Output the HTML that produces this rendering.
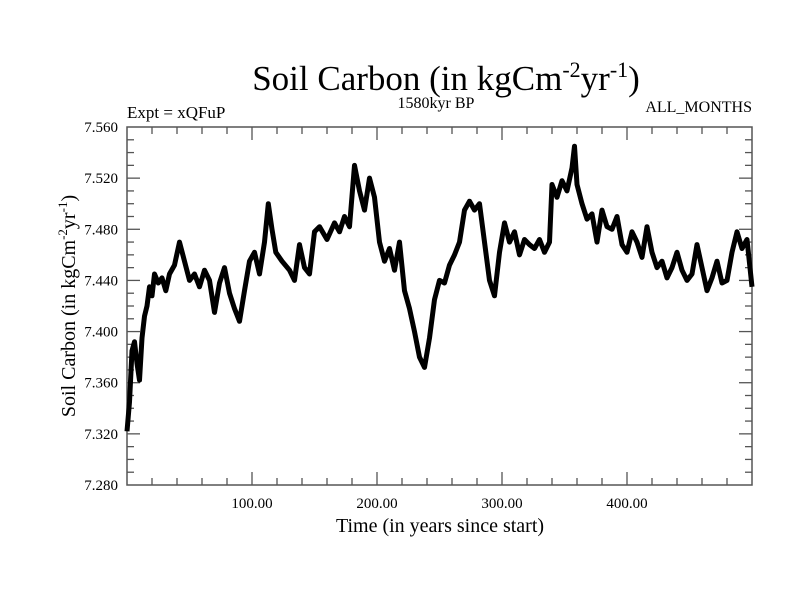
<!DOCTYPE html>
<html><head><meta charset="utf-8"><style>
body{margin:0;background:#fff}
svg text{font-family:"Liberation Serif",serif;fill:#000}
</style></head><body>
<svg id="chart" width="800" height="600" viewBox="0 0 800 600">
<text x="446" y="90" text-anchor="middle" font-size="35">Soil Carbon (in kgCm<tspan dy="-13" font-size="22">-2</tspan><tspan dy="13">yr</tspan><tspan dy="-13" font-size="22">-1</tspan><tspan dy="13">)</tspan></text>
<text x="436" y="108" text-anchor="middle" font-size="16">1580kyr BP</text>
<text x="127" y="118" font-size="17">Expt = xQFuP</text>
<text x="752" y="112" text-anchor="end" font-size="16">ALL_MONTHS</text>
<text transform="translate(75,306) rotate(-90)" text-anchor="middle" font-size="20">Soil Carbon (in kgCm<tspan dy="-8" font-size="13">-2</tspan><tspan dy="8">yr</tspan><tspan dy="-8" font-size="13">-1</tspan><tspan dy="8">)</tspan></text>
<text x="440" y="532" text-anchor="middle" font-size="20">Time (in years since start)</text>
<g id="axes"></g>
<path id="series" fill="none" stroke="#000" stroke-width="5" stroke-linejoin="round"/>
</svg>
<script>
const years=[0,2,4,6,8,10,12,14,16,18,20,22,25,28,31,34,38,42,46,50,54,58,62,66,70,74,78,82,86,90,94,98,102,106,110,113,116,119,124,130,134,138,142,146,150,154,160,166,170,174,178,182,186,190,194,198,202,206,210,214,218,222,226,230,234,238,242,246,250,254,258,262,266,270,274,278,282,286,290,294,298,302,306,310,314,318,322,326,330,334,338,340,344,348,352,356,358,360,364,368,372,376,380,384,388,392,396,400,404,408,412,416,420,424,428,432,436,440,444,448,452,456,460,464,468,472,476,480,484,488,492,496,500];
const values=[7.322,7.345,7.385,7.392,7.375,7.362,7.395,7.412,7.420,7.435,7.428,7.445,7.438,7.442,7.432,7.445,7.452,7.470,7.455,7.440,7.445,7.435,7.448,7.440,7.415,7.438,7.450,7.430,7.418,7.408,7.432,7.455,7.462,7.445,7.470,7.500,7.480,7.462,7.455,7.448,7.440,7.468,7.450,7.445,7.478,7.482,7.472,7.485,7.478,7.490,7.482,7.530,7.510,7.495,7.520,7.505,7.470,7.455,7.465,7.448,7.470,7.432,7.418,7.400,7.380,7.372,7.395,7.425,7.440,7.438,7.452,7.460,7.470,7.495,7.502,7.495,7.500,7.470,7.440,7.428,7.462,7.485,7.470,7.478,7.460,7.472,7.468,7.465,7.472,7.462,7.470,7.515,7.505,7.518,7.510,7.528,7.545,7.515,7.500,7.488,7.492,7.470,7.495,7.482,7.480,7.490,7.468,7.462,7.478,7.470,7.458,7.482,7.462,7.450,7.455,7.442,7.450,7.462,7.448,7.440,7.445,7.468,7.450,7.432,7.442,7.455,7.438,7.440,7.462,7.478,7.465,7.472,7.435];
const yTicks=[7.280,7.320,7.360,7.400,7.440,7.480,7.520,7.560];
const xTicks=[100,200,300,400];
const L=127,R=752,T=127,B=485,X0=0,X1=500,Y0=7.28,Y1=7.56;
const sx=v=>L+(v-X0)/(X1-X0)*(R-L);
const sy=v=>B-(v-Y0)/(Y1-Y0)*(B-T);
const NS='http://www.w3.org/2000/svg';
const ax=document.getElementById('axes');
function mk(tag,attrs){const e=document.createElementNS(NS,tag);for(const k in attrs)e.setAttribute(k,attrs[k]);ax.appendChild(e);return e;}
const frame=mk('rect',{x:L,y:T,width:R-L,height:B-T,fill:'none',stroke:'#555','stroke-width':1.5});


for(let t=20;t<X1;t+=20){const big=t%100===0;const len=big?13:7;
 mk('line',{x1:sx(t),x2:sx(t),y1:B,y2:B-len,stroke:'#555','stroke-width':1.3});
 mk('line',{x1:sx(t),x2:sx(t),y1:T,y2:T+len,stroke:'#555','stroke-width':1.3});}
for(let i=1;i<28;i++){const v=Y0+i*0.01;const big=i%4===0;const len=big?13:7;
 mk('line',{x1:L,x2:L+len,y1:sy(v),y2:sy(v),stroke:'#555','stroke-width':1.3});
 mk('line',{x1:R,x2:R-len,y1:sy(v),y2:sy(v),stroke:'#555','stroke-width':1.3});}
yTicks.forEach(v=>{const t=mk('text',{x:L-9,y:sy(v)+5,'text-anchor':'end','font-size':15});t.textContent=v.toFixed(3);
 
 });
xTicks.forEach(v=>{const t=mk('text',{x:sx(v),y:B+23,'text-anchor':'middle','font-size':15});t.textContent=v.toFixed(2);
 
 });
document.getElementById('series').setAttribute('d',years.map((y,i)=>(i?'L':'M')+sx(y).toFixed(1)+','+sy(values[i]).toFixed(1)).join(''));
</script>
</body></html>
